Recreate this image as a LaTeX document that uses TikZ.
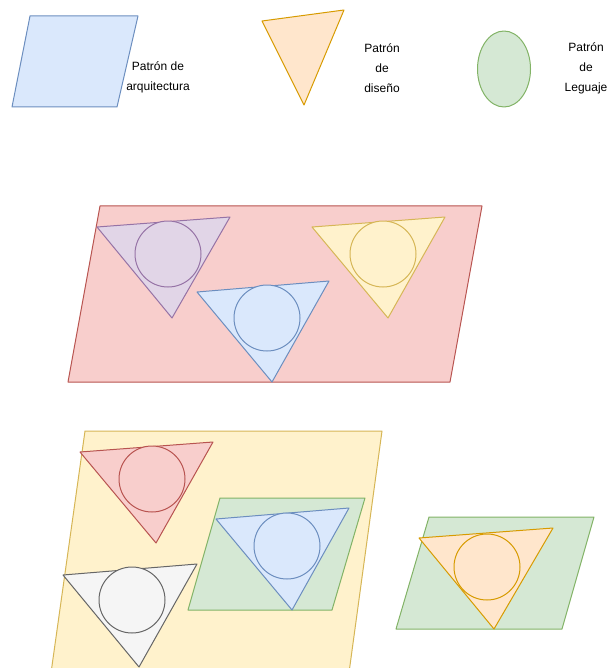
\documentclass[tikz,border=0pt]{standalone}
\usepackage{fontspec}
\setmainfont{Liberation Sans}
\usetikzlibrary{positioning,shapes.geometric}
\definecolor{fillBlue}{HTML}{DAE8FC}
\definecolor{lineBlue}{HTML}{6C8EBF}
\definecolor{fillOrange}{HTML}{FFE6CC}
\definecolor{lineOrange}{HTML}{D79B00}
\definecolor{fillGreen}{HTML}{D5E8D4}
\definecolor{lineGreen}{HTML}{82B366}
\definecolor{fillRed}{HTML}{F8CECC}
\definecolor{lineRed}{HTML}{B85450}
\definecolor{fillPurple}{HTML}{E1D5E7}
\definecolor{linePurple}{HTML}{9673A6}
\definecolor{fillYellow}{HTML}{FFF2CC}
\definecolor{lineYellow}{HTML}{D6B656}
\definecolor{fillGray}{HTML}{F5F5F5}
\definecolor{lineGray}{HTML}{666666}
\tikzset{
  pat/blue/.style={draw=lineBlue, fill=fillBlue, line width=1pt},
  pat/orange/.style={draw=lineOrange, fill=fillOrange, line width=1pt},
  pat/green/.style={draw=lineGreen, fill=fillGreen, line width=1pt},
  pat/red/.style={draw=lineRed, fill=fillRed, line width=1pt},
  pat/purple/.style={draw=linePurple, fill=fillPurple, line width=1pt},
  pat/yellow/.style={draw=lineYellow, fill=fillYellow, line width=1pt},
  pat/gray/.style={draw=lineGray, fill=fillGray, line width=1pt},
  pat/circ/.style={circle, inner sep=0pt, minimum size=66pt},
  pat/label/.style={font=\fontsize{12}{20}\selectfont, align=center, inner sep=0pt}
}

\begin{document}
\begin{tikzpicture}[x=1pt, y=-1pt, line join=round]
\clip (0,0) rectangle (607,668);

% legend
\draw[pat/blue] (30,16) -- (138,16) -- (117,107) -- (12,107) -- cycle;
\node[pat/label] (archTxt) at (158,77) {Patrón de\\arquitectura};
\draw[pat/orange] (262,21) -- (344,10) -- (304,105) -- cycle;
\node[pat/label] (desTxt) at (382,68) {Patrón\\de\\diseño};
\node[pat/green, ellipse, minimum width=53pt, minimum height=76pt, inner sep=0pt] (langKey) at (504,69) {};
\node[pat/label] (langTxt) at (586,68) {Patrón\\de\\Leguaje};

% architecture 1
\draw[pat/red] (100,206) -- (482,206) -- (450,382) -- (68,382) -- cycle;
\draw[pat/purple] (97,227) -- (230,217) -- (172,318) -- cycle;
\node[pat/purple, pat/circ] (c1) at (168,254) {};
\draw[pat/blue] (197,292) -- (329,281) -- (272,382) -- cycle;
\node[pat/blue, pat/circ] (c2) at (267,318) {};
\draw[pat/yellow] (312,227) -- (445,217) -- (388,318) -- cycle;
\node[pat/yellow, pat/circ] (c3) at (383,254) {};

% architecture 2
\draw[pat/yellow] (85,431) -- (382,431) -- (348,680) -- (50,680) -- cycle;
\draw[pat/red] (80,452) -- (213,442) -- (156,543) -- cycle;
\node[pat/red, pat/circ] (c4) at (152,479) {};
\draw[pat/green] (220,498) -- (365,498) -- (332,610) -- (188,610) -- cycle;
\draw[pat/blue] (216,519) -- (349,508) -- (292,610) -- cycle;
\node[pat/blue, pat/circ] (c5) at (287,546) {};
\draw[pat/gray] (63,575) -- (197,564) -- (139,667) -- cycle;
\node[pat/gray, pat/circ] (c6) at (132,600) {};

% language
\draw[pat/green] (429,517) -- (594,517) -- (562,629) -- (396,629) -- cycle;
\draw[pat/orange] (419,538) -- (553,528) -- (494,629) -- cycle;
\node[pat/orange, pat/circ] (c7) at (487,567) {};
\end{tikzpicture}
\end{document}
